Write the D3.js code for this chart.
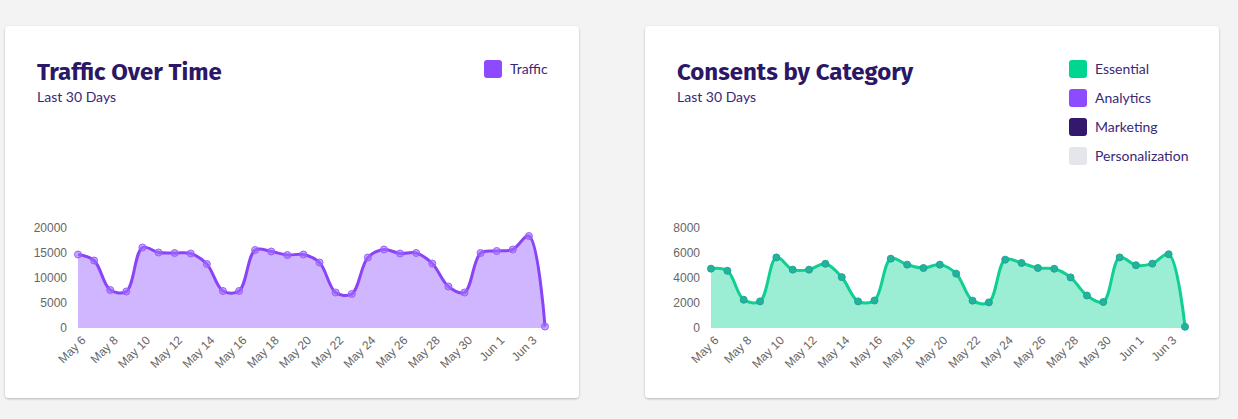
<!DOCTYPE html>
<html>
<head>
<meta charset="utf-8">
<script src="https://cdn.jsdelivr.net/npm/d3@7"></script>
<style>
  body { margin: 0; background: #f3f3f3; }
  svg { display: block; }
  .title { font-family: "Fira Sans", Lato, sans-serif; font-weight: 700; font-size: 24px; fill: #2b1766; }
  .sub { font-family: Lato, "Noto Sans", sans-serif; font-size: 14px; fill: #3a2877; }
  .legend text { font-family: Lato, "Noto Sans", sans-serif; font-size: 14px; fill: #3a2877; }
</style>
</head>
<body>
<svg id="chart" width="1238" height="419"></svg>
<script>
// dates shown on the x axis (one per day)
var days = ["May 6","May 7","May 8","May 9","May 10","May 11","May 12","May 13","May 14","May 15",
  "May 16","May 17","May 18","May 19","May 20","May 21","May 22","May 23","May 24","May 25",
  "May 26","May 27","May 28","May 29","May 30","May 31","Jun 1","Jun 2","Jun 3","Jun 4"];
var dayLabels = ["May 6","May 8","May 10","May 12","May 14","May 16","May 18","May 20","May 22",
  "May 24","May 26","May 28","May 30","Jun 1","Jun 3"];

var traffic = [14700,13500,7600,7300,16100,15100,15000,14900,12800,7400,
  7400,15600,15300,14600,14700,13100,7100,6800,14100,15700,
  14900,15000,12900,8300,7100,15000,15400,15700,18400,300];
var trafficTicks = [0,5000,10000,15000,20000];

var essential = [4750,4580,2260,2130,5650,4670,4670,5140,4070,2130,
  2200,5550,5070,4800,5070,4350,2190,2050,5470,5200,
  4800,4740,4050,2600,2080,5650,5020,5150,5900,100];
var consentTicks = [0,2000,4000,6000,8000];

var categories = ["Essential","Analytics","Marketing","Personalization"];
var categoryColors = ["#00d68f","#8c4bff","#33186b","#e4e6ea"];

var svg = d3.select("#chart");

var defs = svg.append("defs");
var f = defs.append("filter").attr("id", "shadow").attr("x", "-5%").attr("y", "-5%")
  .attr("width", "110%").attr("height", "110%");
f.append("feDropShadow").attr("dx", 0).attr("dy", 1).attr("stdDeviation", 1)
  .attr("flood-color", "#000").attr("flood-opacity", 0.25);

function drawCard(opt) {
  var g = svg.append("g");

  g.append("rect")
    .attr("x", opt.x).attr("y", 26)
    .attr("width", 574).attr("height", 372)
    .attr("rx", 4)
    .attr("fill", "#fff")
    .attr("filter", "url(#shadow)");

  g.append("text").attr("class", "title")
    .attr("x", opt.x + 32).attr("y", 80)
    .text(opt.title);
  g.append("text").attr("class", "sub")
    .attr("x", opt.x + 32).attr("y", 102)
    .text("Last 30  Days");

  // legend
  var leg = g.append("g").attr("class", "legend");
  opt.legend.forEach(function(name, i) {
    leg.append("rect")
      .attr("x", opt.legendX).attr("y", 60 + i * 29)
      .attr("width", 18).attr("height", 18).attr("rx", 3)
      .attr("fill", opt.legendColors[i]);
    leg.append("text")
      .attr("x", opt.legendX + 26).attr("y", 74 + i * 29)
      .text(name);
  });

  var x = d3.scalePoint().domain(days).range([opt.plotX, opt.plotX + opt.plotW]);
  var y = d3.scaleLinear().domain([0, opt.yMax]).range([328, 228]);

  var area = d3.area()
    .x((d, i) => x(days[i]))
    .y0(y(0))
    .y1(d => y(d))
    .curve(d3.curveCatmullRom.alpha(0.5));
  var line = d3.line()
    .x((d, i) => x(days[i]))
    .y(d => y(d))
    .curve(d3.curveCatmullRom.alpha(0.5));

  g.append("path").datum(opt.values)
    .attr("d", area)
    .attr("fill", opt.fill);

  g.append("path").datum(opt.values)
    .attr("d", line)
    .attr("fill", "none")
    .attr("stroke", opt.stroke)
    .attr("stroke-width", 3);

  g.selectAll(".pt").data(opt.values).enter().append("circle")
    .attr("class", "pt")
    .attr("cx", (d, i) => x(days[i]))
    .attr("cy", d => y(d))
    .attr("r", 3.5)
    .attr("fill", opt.pointFill)
    .attr("stroke", opt.pointStroke)
    .attr("stroke-width", 1);

  // y axis
  var yAxis = d3.axisLeft(y).tickValues(opt.yTicks).tickFormat(d3.format("d"))
    .tickSize(0).tickPadding(11);
  var ya = g.append("g")
    .attr("transform", `translate(${opt.plotX},0)`)
    .call(yAxis);
  ya.select(".domain").remove();

  // x axis
  var xAxis = d3.axisBottom(x).tickValues(dayLabels).tickSize(0);
  var xa = g.append("g")
    .attr("transform", "translate(0,328)")
    .call(xAxis);
  xa.select(".domain").remove();
  xa.selectAll(".tick text")
    .attr("text-anchor", "end")
    .attr("dy", "0.35em")
    .attr("y", 0)
    .attr("transform", "translate(5,10) rotate(-45)");

  g.selectAll(".tick text")
    .attr("font-family", "'Liberation Sans', Arial, sans-serif")
    .attr("font-size", 12)
    .attr("fill", "#666");
}

drawCard({
  x: 5, title: "Traffic Over Time",
  legend: ["Traffic"], legendColors: ["#8c4bff"], legendX: 484,
  values: traffic, yMax: 20000, yTicks: trafficTicks, plotX: 78, plotW: 467,
  fill: "#d0b5ff", stroke: "#8a44f7",
  pointFill: "rgba(160,110,255,0.6)", pointStroke: "#9a5cff"
});

drawCard({
  x: 645, title: "Consents by Category",
  legend: categories, legendColors: categoryColors, legendX: 1069,
  values: essential, yMax: 8000, yTicks: consentTicks, plotX: 711, plotW: 474,
  fill: "#9bedd3", stroke: "#0fcf93",
  pointFill: "#22b39c", pointStroke: "#1fa595"
});
</script>
</body>
</html>
